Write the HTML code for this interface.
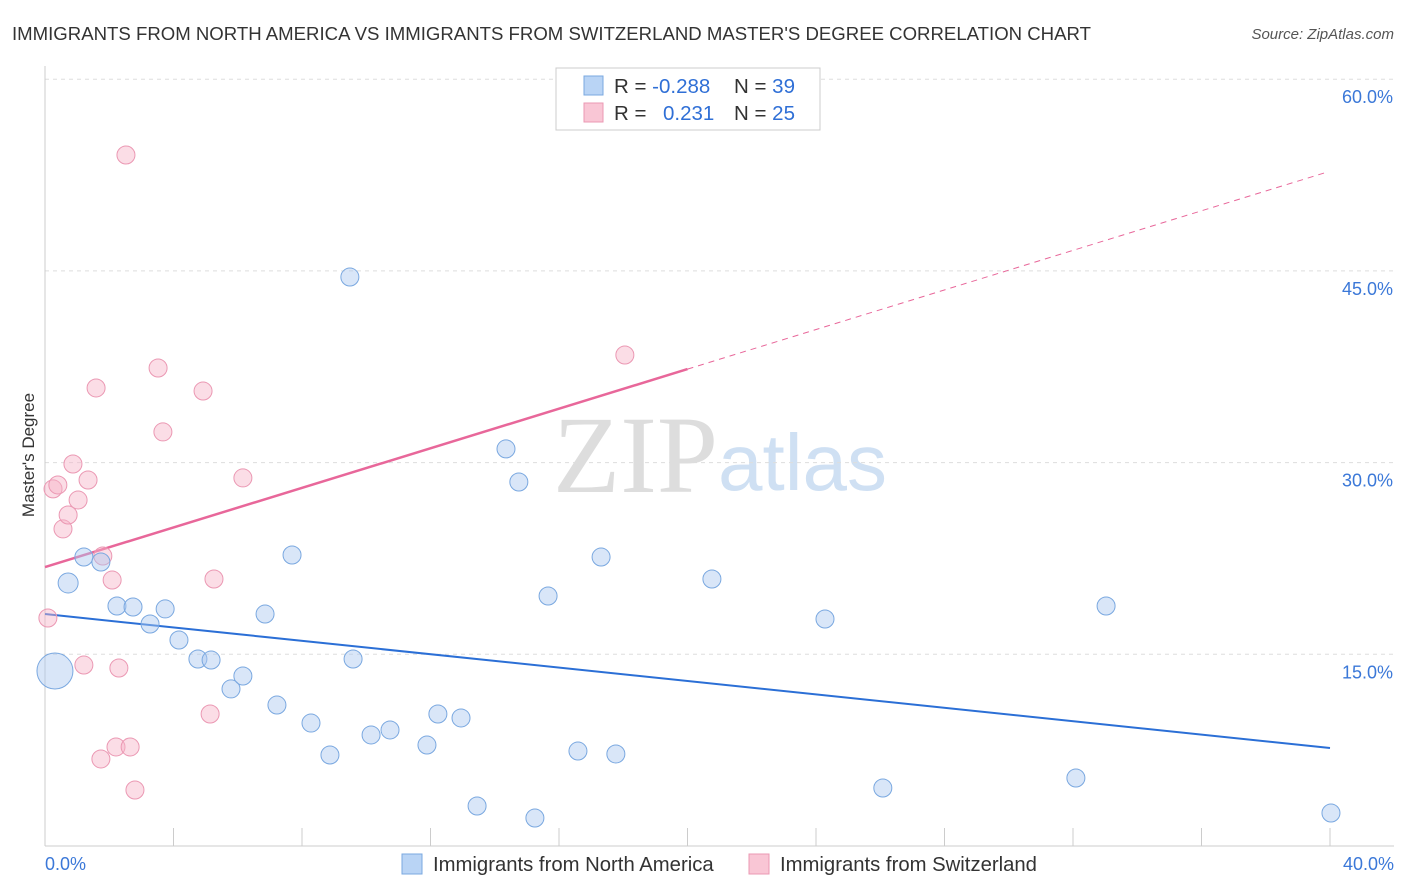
<!DOCTYPE html>
<html><head><meta charset="utf-8"><style>
body{margin:0;background:#fff;font-family:"Liberation Sans",sans-serif;}
svg{display:block}
</style></head><body>
<svg id="chart" width="1406" height="892" xmlns="http://www.w3.org/2000/svg">
<text x="12" y="40" font-size="18.6" fill="#333">IMMIGRANTS FROM NORTH AMERICA VS IMMIGRANTS FROM SWITZERLAND MASTER'S DEGREE CORRELATION CHART</text>
<text x="1394" y="39" font-size="15" fill="#555" font-style="italic" text-anchor="end">Source: ZipAtlas.com</text>
<text x="553" y="492" font-size="110" fill="#ddd" font-family="Liberation Serif">ZIP</text>
<text x="718" y="490" font-size="80" fill="#cfe0f3">atlas</text>
<g id="grid"></g><g id="axes"></g><g id="lines"></g><g id="points"></g>
<text transform="translate(34,455) rotate(-90)" font-size="17" fill="#333" text-anchor="middle">Master's Degree</text>
<g>
<rect x="556" y="68" width="264" height="62" fill="#fff" stroke="#ccc"/>
<rect x="584" y="76" width="19" height="19" fill="#b9d4f5" stroke="#7aa8e0"/>
<rect x="584" y="103" width="19" height="19" fill="#f9c6d5" stroke="#eb98b3"/>
<text x="614" y="93" font-size="20.5" fill="#333">R = <tspan fill="#2f6fd6">-0.288</tspan></text>
<text x="734" y="93" font-size="20.5" fill="#333">N = <tspan fill="#2f6fd6">39</tspan></text>
<text x="614" y="120" font-size="20.5" fill="#333">R = <tspan fill="#2f6fd6" x="663">0.231</tspan></text>
<text x="734" y="120" font-size="20.5" fill="#333">N = <tspan fill="#2f6fd6">25</tspan></text>
</g>
<g>
<rect x="402" y="854" width="20" height="20" fill="#b9d4f5" stroke="#7aa8e0"/>
<text x="433" y="871" font-size="20.3" fill="#333">Immigrants from North America</text>
<rect x="749" y="854" width="20" height="20" fill="#f9c6d5" stroke="#eb98b3"/>
<text x="780" y="871" font-size="20.3" fill="#333">Immigrants from Switzerland</text>
</g>
</svg>
<script>
const blueX=[0.31,0.72,1.21,1.74,2.24,2.74,3.27,3.74,4.17,4.76,5.17,5.79,6.16,6.85,7.22,7.69,8.28,8.87,9.49,9.59,10.15,10.74,11.89,12.23,12.95,13.45,14.35,14.75,15.25,15.66,16.59,17.31,17.77,20.76,24.28,26.08,32.09,33.03,40.03];
const blueY=[13.69,20.58,22.61,22.22,18.78,18.70,17.37,18.55,16.12,14.63,14.55,12.29,13.30,18.15,11.03,22.77,9.62,7.12,44.52,14.63,8.69,9.08,7.90,10.33,10.02,3.13,31.07,28.48,2.19,19.56,7.43,22.61,7.20,20.89,17.76,4.54,5.32,18.78,2.58];
const pinkX=[0.09,0.25,0.40,0.56,0.72,0.87,1.03,1.21,1.34,1.59,1.74,1.80,2.09,2.21,2.30,2.52,2.65,2.80,3.52,3.67,4.92,5.14,5.26,6.16,18.05];
const pinkY=[17.84,27.94,28.25,24.81,25.90,29.89,27.07,14.16,28.64,35.84,6.81,22.69,20.81,7.75,13.93,54.07,7.75,4.38,37.40,32.40,35.60,10.33,20.89,28.80,38.42];
const yTicks=[15,30,45,60];
const xTickLabels=["0.0%","40.0%"];
const blueTrend=[18.15,7.67];
const pinkTrend=[21.83,52.8];
const sx=v=>45+v/40*1285, sy=v=>846-v/15*191.7;
const NS="http://www.w3.org/2000/svg";
function mk(t,a,p){const e=document.createElementNS(NS,t);for(const k in a)e.setAttribute(k,a[k]);p.appendChild(e);return e;}
const grid=document.getElementById('grid'),axes=document.getElementById('axes'),lines=document.getElementById('lines'),pts=document.getElementById('points');
yTicks.forEach(v=>{const l=mk('line',{x1:45,x2:1394,y1:sy(v),y2:sy(v),stroke:'#ddd','stroke-dasharray':'4,4'},grid);


const t=mk('text',{x:1393,y:sy(v)+24,'font-size':18,fill:'#3b78d8','text-anchor':'end'},grid);t.textContent=v.toFixed(1)+'%';

});
const ax=mk('line',{x1:45,x2:1394,y1:846,y2:846,stroke:'#ccc'},axes);


const ay=mk('line',{x1:45,x2:45,y1:66,y2:846,stroke:'#ccc'},axes);


for(let i=1;i<=10;i++){const t=mk('line',{x1:sx(i*4),x2:sx(i*4),y1:828,y2:846,stroke:'#ccc'},axes);

}
[[0,'start',45],[40,'end',1394]].forEach((d,i)=>{const t=mk('text',{x:d[2],y:870,'font-size':18,fill:'#3b78d8','text-anchor':d[1]},axes);t.textContent=xTickLabels[i];

});
const bl=mk('line',{x1:sx(0),y1:sy(blueTrend[0]),x2:sx(40),y2:sy(blueTrend[1]),stroke:'#2b6fd6','stroke-width':2},lines);


const pm=(pinkTrend[0]+pinkTrend[1])/2;
const pl=mk('line',{x1:sx(0),y1:sy(pinkTrend[0]),x2:sx(20),y2:sy(pm),stroke:'#e8679a','stroke-width':2.5},lines);


const pd=mk('line',{x1:sx(20),y1:sy(pm),x2:sx(39.85),y2:sy(pinkTrend[0]+(pinkTrend[1]-pinkTrend[0])*39.85/40),stroke:'#e8679a','stroke-width':1,'stroke-dasharray':'6,5'},lines);


pinkX.forEach((x,i)=>{const c=mk('circle',{cx:sx(x),cy:sy(pinkY[i]),r:9,fill:'rgba(246,180,200,0.45)',stroke:'#eb98b3','stroke-width':1},pts);

});
blueX.forEach((x,i)=>{const c=mk('circle',{cx:sx(x),cy:sy(blueY[i]),r:i==0?18:(i==1?10:9),fill:'rgba(170,200,240,0.45)',stroke:'#7aa8e0','stroke-width':1},pts);

});
</script>
</body></html>
